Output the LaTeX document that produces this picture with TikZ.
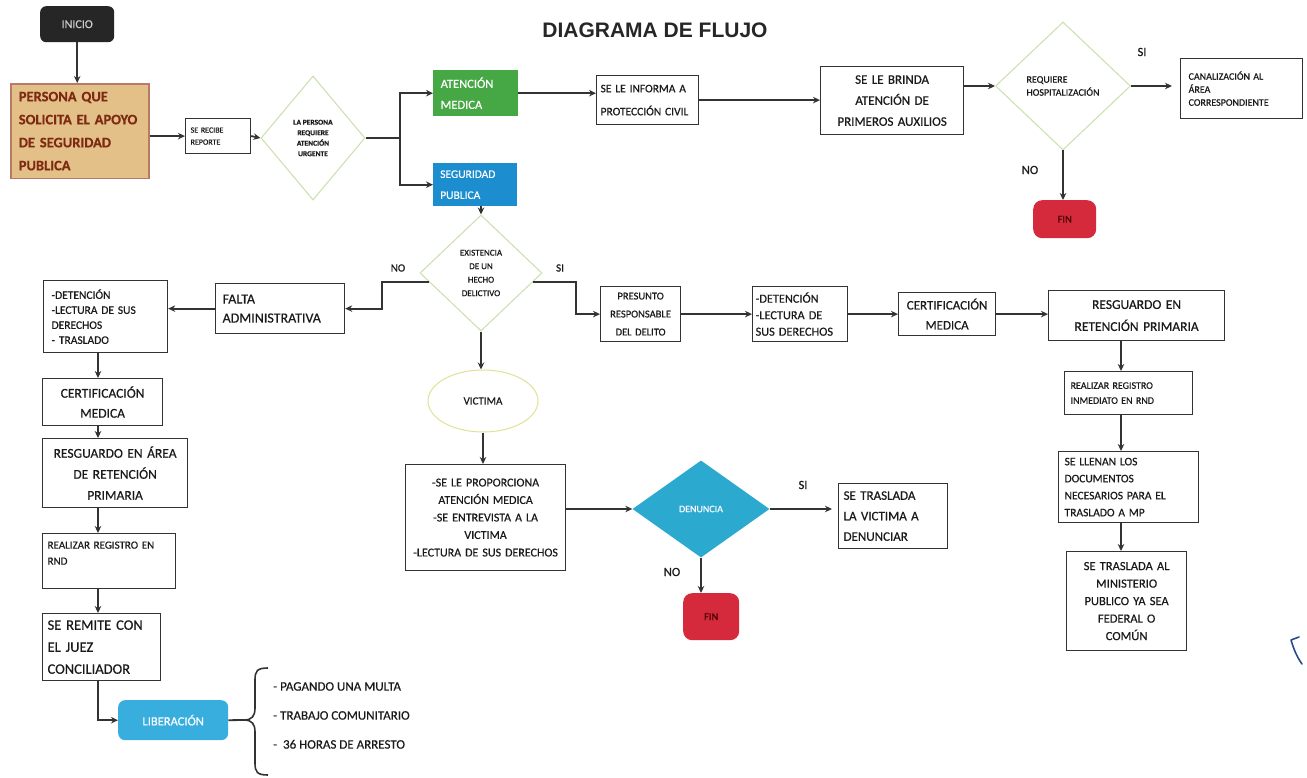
\documentclass[tikz,border=0pt]{standalone}
\usepackage{fontspec}
\setmainfont{Carlito}[FakeBold=0.45]
\newfontfamily\titlefont{Liberation Sans}
\usetikzlibrary{shapes.geometric,arrows.meta}
\definecolor{linec}{HTML}{333333}
\definecolor{txt}{HTML}{1A1A1A}
\definecolor{tanfill}{HTML}{E3C088}
\definecolor{tanline}{HTML}{B77B68}
\definecolor{maroontxt}{HTML}{7E2A12}
\definecolor{decgreen}{HTML}{C9DFAE}
\definecolor{medgreen}{HTML}{45A845}
\definecolor{segblue}{HTML}{1C8ED0}
\definecolor{libblue}{HTML}{38AEDF}
\definecolor{denblue}{HTML}{2BA9CF}
\definecolor{finred}{HTML}{D42A3C}
\definecolor{ellyel}{HTML}{E0E296}
\definecolor{inkblue}{HTML}{2C4A8A}
\newcommand{\fsz}[2]{\fontsize{#1}{#2}\selectfont}
\begin{document}
\begin{tikzpicture}[x=1pt,y=-1pt,
 box/.style={draw=linec, line width=1.2pt, fill=white, text=txt, inner sep=5pt, anchor=north west},
 cbox/.style={box, align=center},
 lbox/.style={box, align=left},
 arr/.style={draw=linec, line width=1.8pt, -{Stealth[length=7pt,width=6.5pt]}},
 ln/.style={draw=linec, line width=1.8pt},
 dec/.style={diamond, draw=decgreen, line width=1pt, fill=white, inner sep=0pt, align=center, text=txt},
 colbox/.style={anchor=north west, inner sep=6pt, text=white, align=left},
 term/.style={anchor=north west, inner sep=0pt, rounded corners=9pt},
 lbl/.style={text=txt, inner sep=0pt, font=\fsz{12.5}{14}},
]
\useasboundingbox (0,0) rectangle (1307,778);
\fill[white] (0,0) rectangle (1307,778);

% title
\node[font=\titlefont\bfseries\fsz{21}{24}, text=black!85] (title) at (655,30) {DIAGRAMA DE FLUJO};

% start
\node[term, fill=black!85, rounded corners=6pt, minimum width=74, minimum height=36, font=\fsz{12}{14}, text=black!20] (inicio) at (40,6) {INICIO};
\node[box, draw=tanline, fill=tanfill, line width=1.6pt, inner sep=8pt, minimum width=138, minimum height=92, text width=122, align=left, font=\bfseries\fsz{14.5}{23}, text=maroontxt] (persona) at (10,83) {PERSONA QUE\\SOLICITA EL APOYO\\DE SEGURIDAD\\PUBLICA};
\node[lbox, minimum width=65, minimum height=35, text width=55, font=\fsz{8}{12}] (recibe) at (185,118) {SE RECIBE\\REPORTE};
\node[dec, minimum width=104, minimum height=124, font=\bfseries\fsz{7.5}{10.5}] (urg) at (313,138) {LA PERSONA\\REQUIERE\\ATENCIÓN\\URGENTE};
\coordinate (j1) at (400,138);

% top branch
\node[colbox, fill=medgreen, minimum width=85, minimum height=46, text width=70, font=\fsz{12.5}{21}] (atm) at (433,70) {ATENCIÓN\\MEDICA};
\node[colbox, fill=segblue, minimum width=84, minimum height=43, text width=70, font=\fsz{11.5}{21}] (segp) at (433,163) {SEGURIDAD\\PUBLICA};
\node[lbox, inner sep=4pt, minimum width=100, minimum height=49, text width=94, font=\fsz{11.5}{23}] (inf) at (596,75) {SE LE INFORMA A\\PROTECCIÓN CIVIL};
\node[cbox, minimum width=143, minimum height=68, text width=135, inner sep=4pt, font=\fsz{13}{21}] (brinda) at (820,66) {SE LE BRINDA\\ATENCIÓN DE\\PRIMEROS AUXILIOS};
\node[dec, minimum width=135, minimum height=128, font=\fsz{10}{13}, align=left] (req) at (1063,86) {REQUIERE\\HOSPITALIZACIÓN};
\node[lbox, minimum width=122, minimum height=60, inner sep=8pt, text width=106, font=\fsz{10}{13}] (canal) at (1180,58) {CANALIZACIÓN AL\\ÁREA\\CORRESPONDIENTE};
\node[term, fill=finred, minimum width=63, minimum height=38, font=\fsz{10.5}{12}, text=red!25!black] (fin1) at (1033,200) {FIN};
\node[lbl] (siA) at (1142,52) {SI};
\node[lbl] (noA) at (1030,170) {NO};

% security branch
\node[dec, minimum width=122, minimum height=116, font=\fsz{9}{13.5}] (exist) at (481,273) {EXISTENCIA\\DE UN\\HECHO\\DELICTIVO};
\node[lbl, font=\fsz{11}{13}] (noB) at (398,268) {NO};
\node[lbl, font=\fsz{11}{13}] (siB) at (560,268) {SI};

% left column
\node[lbox, minimum width=129, minimum height=50, text width=115, font=\fsz{14}{19}] (falta) at (215,283) {FALTA\\ADMINISTRATIVA};
\node[lbox, minimum width=124, minimum height=72, inner sep=8pt, text width=108, font=\fsz{11.5}{15}] (det1) at (43,280) {-DETENCIÓN\\-LECTURA DE SUS\\DERECHOS\\- TRASLADO};
\coordinate (colL) at (98,0);
\node[cbox, minimum width=120, minimum height=47, text width=110, font=\fsz{13.5}{20}] (cert1) at (42,378) {CERTIFICACIÓN\\MEDICA};
\node[cbox, minimum width=145, minimum height=69, text width=135, font=\fsz{13.5}{21}] (resg1) at (42,438) {RESGUARDO EN ÁREA\\DE RETENCIÓN\\PRIMARIA};
\node[lbox, minimum width=133, minimum height=55, text width=123, font=\fsz{11}{16}] (reg1) at (42,533) {REALIZAR REGISTRO EN\\RND\\\mbox{}};
\node[lbox, minimum width=118, minimum height=67, text width=108, font=\fsz{14.5}{22}] (rem1) at (42,613) {SE REMITE CON\\EL JUEZ\\CONCILIADOR};
\node[term, fill=libblue, rounded corners=7pt, minimum width=110, minimum height=40, font=\fsz{12.5}{14}, text=white] (lib) at (118,700) {LIBERACIÓN};
\coordinate (btip) at (244,720);
\node[anchor=north west, inner sep=0pt, align=left, text=txt, font=\fsz{13}{29}] (libopts) at (273,682) {- PAGANDO UNA MULTA\\- TRABAJO COMUNITARIO\\-\ \ 36 HORAS DE ARRESTO};

% right row
\node[cbox, minimum width=80, minimum height=55, text width=72, inner sep=4pt, font=\fsz{10.5}{18}] (pres) at (600,286) {PRESUNTO\\RESPONSABLE\\DEL DELITO};
\node[lbox, minimum width=95, minimum height=55, text width=89, inner sep=3pt, font=\fsz{12.3}{16.5}] (det2) at (752,286) {-DETENCIÓN\\-LECTURA DE\\SUS DERECHOS};
\node[cbox, minimum width=97, minimum height=43, text width=89, inner sep=4pt, font=\fsz{13}{20}] (cert2) at (898,292) {CERTIFICACIÓN\\MEDICA};
\node[cbox, minimum width=176, minimum height=50, text width=166, font=\fsz{13.5}{22}] (resg2) at (1048,290) {RESGUARDO EN\\RETENCIÓN PRIMARIA};
\coordinate (colR) at (1121,0);
\node[lbox, minimum width=128, minimum height=43, text width=116, inner sep=6pt, font=\fsz{10}{15}] (reg2) at (1064,371) {REALIZAR REGISTRO\\INMEDIATO EN RND};
\node[lbox, minimum width=140, minimum height=71, text width=128, inner sep=6pt, font=\fsz{11.5}{17}] (llen) at (1058,451) {SE LLENAN LOS\\DOCUMENTOS\\NECESARIOS PARA EL\\TRASLADO A MP};
\node[cbox, minimum width=120, minimum height=99, text width=110, font=\fsz{12.5}{17.5}] (mp) at (1066,551) {SE TRASLADA AL\\MINISTERIO\\PUBLICO YA SEA\\FEDERAL O\\COMÚN};

% victim branch
\node[ellipse, draw=ellyel, line width=1pt, fill=white, minimum width=110, minimum height=62, inner sep=0pt, font=\fsz{11}{13}, text=txt] (vic) at (483,401) {VICTIMA};
\node[cbox, minimum width=160, minimum height=106, text width=152, inner sep=4pt, font=\fsz{12}{17.5}] (vbox) at (405,464) {-SE LE PROPORCIONA\\ATENCIÓN MEDICA\\-SE ENTREVISTA A LA\\VICTIMA\\-LECTURA DE SUS DERECHOS};
\node[diamond, fill=denblue, minimum width=137, minimum height=97, inner sep=0pt, font=\fsz{10}{12}, text=white] (den) at (701,509) {DENUNCIA};
\node[lbox, minimum width=109, minimum height=65, text width=99, font=\fsz{13}{20.5}] (trasl) at (838,483) {SE TRASLADA\\LA VICTIMA A\\DENUNCIAR};
\node[lbl] (siC) at (803,485) {SI};
\node[lbl] (noC) at (672,572) {NO};
\node[term, fill=finred, minimum width=56, minimum height=47, font=\fsz{10.5}{12}, text=red!25!black] (fin2) at (683,593) {FIN};

% connectors
\draw[arr] (inicio.south) -- (inicio.south |- persona.north);
\draw[arr] (persona.east |- recibe.west) -- (recibe.west);
\draw[arr] (recibe.east) -- (urg.west);
\draw[ln] (urg.east) -- (j1);
\draw[arr] (j1) |- (atm.west);
\draw[arr] (j1) |- (segp.west);
\draw[arr] (atm.east) -- (atm.east -| inf.west);
\draw[arr] (inf.east) -- (inf.east -| brinda.west);
\draw[arr] (brinda.east |- req.west) -- (req.west);
\draw[arr, shorten >=8pt] (req.east) -- (req.east -| canal.west);
\draw[arr] (req.south) -- (fin1.north -| req.south);
\draw[arr] (segp.south -| exist.north) -- (exist.north);
\draw[arr] (exist.190) -- ++(-47,0) |- (falta.east);
\draw[arr] (falta.west) -- (falta.west -| det1.east);
\draw[arr] (det1.south -| colL) -- (cert1.north -| colL);
\draw[arr] (cert1.south -| colL) -- (resg1.north -| colL);
\draw[arr] (resg1.south -| colL) -- (reg1.north -| colL);
\draw[arr] (reg1.south -| colL) -- (rem1.north -| colL);
\draw[arr] (rem1.south -| colL) |- (lib.west);
\draw[ln] (lib.east) -- (btip);
\draw[ln, line width=1.6pt] (268,668) .. controls (257,668) and (255,671) .. (255,680) -- (255,708) .. controls (255,716) and (252,720) .. (btip) .. controls (252,720) and (255,724) .. (255,732) -- (255,763) .. controls (255,772) and (257,775) .. (268,775);
\draw[arr] (exist.350) -- ++(43,0) |- (pres.west);
\draw[arr] (pres.east) -- (pres.east -| det2.west);
\draw[arr] (det2.east) -- (det2.east -| cert2.west);
\draw[arr] (cert2.east) -- (cert2.east -| resg2.west);
\draw[arr] (resg2.south -| colR) -- (reg2.north -| colR);
\draw[arr] (reg2.south -| colR) -- (llen.north -| colR);
\draw[arr] (llen.south -| colR) -- (mp.north -| colR);
\draw[arr] (exist.south) -- (vic.north -| exist.south);
\draw[arr] (vic.south) -- (vbox.north -| vic.south);
\draw[arr] (vbox.east |- den.west) -- (den.west);
\draw[arr, shorten >=6pt] (den.east) -- (den.east -| trasl.west);
\draw[arr] (den.south) -- (fin2.north -| den.south);

% stray ink mark at right edge
\draw[inkblue, line width=1.6pt, line cap=round] (1291,640) -- (1299,637) (1291,640) .. controls (1294,650) and (1297,657) .. (1302,664);
\end{tikzpicture}
\end{document}
